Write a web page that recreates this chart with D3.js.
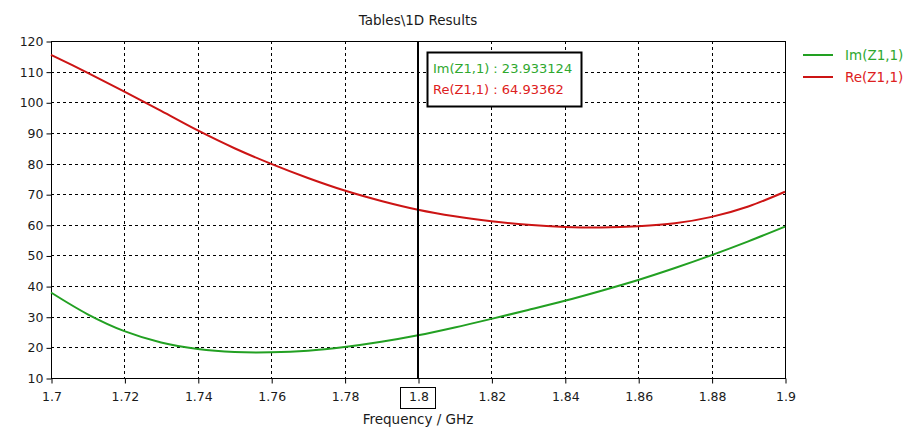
<!DOCTYPE html>
<html>
<head>
<meta charset="utf-8">
<script src="https://cdn.jsdelivr.net/npm/d3@7"></script>
<style>
    body { margin: 0; background: #ffffff; }
    text { font-family: "DejaVu Sans", Verdana, sans-serif; fill: #1a1a1a; }
</style>
</head>
<body>
<div id="chart"></div>
<script>
const WIDTH = 909;
const HEIGHT = 432;
const MARGIN = { top: 41, right: 124, bottom: 54, left: 51 };
const INNER_WIDTH = WIDTH - MARGIN.left - MARGIN.right;
const INNER_HEIGHT = HEIGHT - MARGIN.top - MARGIN.bottom;

const frequency = [1.70, 1.71, 1.72, 1.73, 1.74, 1.75, 1.76, 1.77, 1.78, 1.79, 1.80,
    1.81, 1.82, 1.83, 1.84, 1.85, 1.86, 1.87, 1.88, 1.89, 1.90];
const imZ = [37.9, 30.8, 25.3, 21.6, 19.5, 18.5, 18.4, 18.9, 20.1, 21.8, 23.933124,
    26.5, 29.3, 32.2, 35.2, 38.5, 42.0, 45.9, 50.1, 54.6, 59.4];
const reZ = [115.5, 109.6, 103.5, 97.2, 90.8, 85.0, 79.9, 75.3, 71.2, 67.8, 64.93362,
    62.8, 61.2, 60.0, 59.3, 59.1, 59.5, 60.5, 62.6, 66.0, 70.8];

const xTicks = [1.7, 1.72, 1.74, 1.76, 1.78, 1.8, 1.82, 1.84, 1.86, 1.88, 1.9];
const yTicks = [10, 20, 30, 40, 50, 60, 70, 80, 90, 100, 110, 120];
const markerFreq = 1.8;

const series = [
    { name: 'Im(Z1,1)', values: imZ, color: '#22a022', textColor: '#2ea82e', readout: '23.933124' },
    { name: 'Re(Z1,1)', values: reZ, color: '#cc1414', textColor: '#dd2020', readout: '64.93362' }
];

const xScale = d3.scaleLinear().domain([1.7, 1.9]).range([0, INNER_WIDTH]);
const yScale = d3.scaleLinear().domain([10, 120]).range([INNER_HEIGHT, 0]);

const svg = d3.select('#chart')
    .append('svg')
    .attr('width', WIDTH)
    .attr('height', HEIGHT);

svg.append('text')
    .attr('x', 418)
    .attr('y', 25)
    .attr('text-anchor', 'middle')
    .style('font-size', '13.5px')
    .text('Tables\\1D Results');

const inner = svg.append('g')
    .attr('transform', `translate(${MARGIN.left},${MARGIN.top})`);

// dashed grid
inner.append('g')
    .selectAll('line')
    .data(xTicks.slice(1, -1))
    .join('line')
    .attr('x1', d => Math.round(xScale(d)) + 0.5)
    .attr('x2', d => Math.round(xScale(d)) + 0.5)
    .attr('y1', 0)
    .attr('y2', INNER_HEIGHT)
    .attr('stroke', '#000')
    .attr('stroke-dasharray', '3,3');

inner.append('g')
    .selectAll('line')
    .data(yTicks.slice(1, -1))
    .join('line')
    .attr('x1', 0)
    .attr('x2', INNER_WIDTH)
    .attr('y1', d => Math.round(yScale(d)) + 0.5)
    .attr('y2', d => Math.round(yScale(d)) + 0.5)
    .attr('stroke', '#000')
    .attr('stroke-dasharray', '3,3');

// frame
inner.append('rect')
    .attr('x', 0.5)
    .attr('y', 0.5)
    .attr('width', INNER_WIDTH)
    .attr('height', INNER_HEIGHT)
    .attr('fill', 'none')
    .attr('stroke', '#000');

// axes
const xAxis = d3.axisBottom(xScale)
    .tickValues(xTicks)
    .tickFormat(d => String(d))
    .tickSize(5)
    .tickPadding(9);

const yAxis = d3.axisLeft(yScale)
    .tickValues(yTicks)
    .tickFormat(d => String(d))
    .tickSize(5)
    .tickPadding(3);

const gx = inner.append('g')
    .attr('transform', `translate(0.5,${INNER_HEIGHT + 0.5})`)
    .call(xAxis);
const gy = inner.append('g')
    .attr('transform', 'translate(0.5,0.5)')
    .call(yAxis);

[gx, gy].forEach(g => {
    g.select('.domain').remove();
    g.selectAll('.tick line').attr('stroke', '#000');
    g.selectAll('.tick text')
        .style('font-family', '"DejaVu Sans", Verdana, sans-serif')
        .style('font-size', '12.5px')
        .attr('fill', '#1a1a1a');
});

// curves
const line = d3.line()
    .x((d, i) => xScale(frequency[i]))
    .y(d => yScale(d))
    .curve(d3.curveCatmullRom);

inner.selectAll('.curve')
    .data(series)
    .join('path')
    .attr('class', 'curve')
    .attr('d', d => line(d.values))
    .attr('fill', 'none')
    .attr('stroke', d => d.color)
    .attr('stroke-width', 2);

// marker line at 1.8 GHz
const mx = Math.round(xScale(markerFreq));
inner.append('line')
    .attr('x1', mx)
    .attr('x2', mx)
    .attr('y1', 0)
    .attr('y2', INNER_HEIGHT)
    .attr('stroke', '#000')
    .attr('stroke-width', 2);

inner.append('rect')
    .attr('x', mx - 17.5)
    .attr('y', INNER_HEIGHT + 9.5)
    .attr('width', 35)
    .attr('height', 21)
    .attr('fill', 'none')
    .attr('stroke', '#000');

// readout box
const box = inner.append('g')
    .attr('transform', `translate(${mx + 9},${11})`);

box.append('rect')
    .attr('x', 0.5)
    .attr('y', 0.5)
    .attr('width', 154)
    .attr('height', 54)
    .attr('fill', '#fff')
    .attr('stroke', '#000')
    .attr('stroke-width', 2);

series.forEach((s, i) => {
    box.append('text')
        .attr('x', 6)
        .attr('y', 21 + i * 21)
        .style('font-size', '13px')
        .style('fill', s.textColor)
        .text(`${s.name} : ${s.readout}`);
});

// axis title
svg.append('text')
    .attr('x', 418)
    .attr('y', 424)
    .attr('text-anchor', 'middle')
    .style('font-size', '13.5px')
    .text('Frequency / GHz');

// legend
const legend = svg.append('g')
    .attr('transform', 'translate(803,55)');

series.forEach((s, i) => {
    const item = legend.append('g')
        .attr('transform', `translate(0,${i * 22})`);
    item.append('line')
        .attr('x1', 0)
        .attr('x2', 30)
        .attr('y1', 0)
        .attr('y2', 0)
        .attr('stroke', s.color)
        .attr('stroke-width', 2);
    item.append('text')
        .attr('x', 42)
        .attr('y', 5)
        .style('font-size', '13.5px')
        .style('fill', s.textColor)
        .text(s.name);
});
</script>
</body>
</html>
